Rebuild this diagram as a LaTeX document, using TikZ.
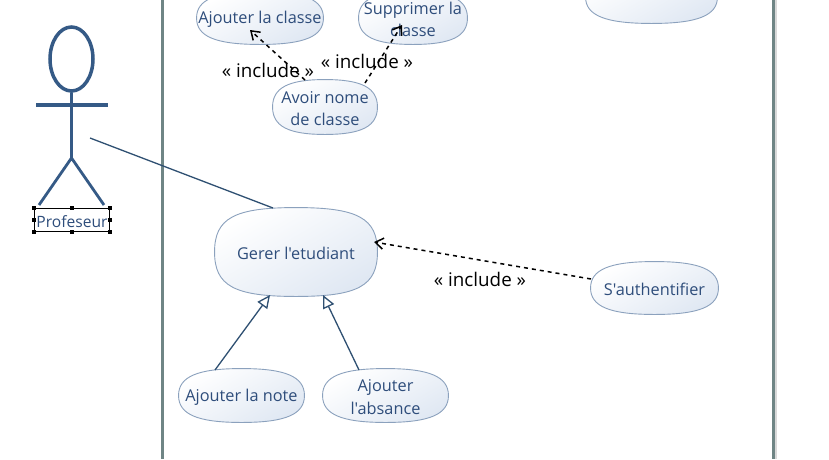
\documentclass[tikz,border=0pt]{standalone}
\usepackage{fontspec}
\setmainfont{Open Sans}
\newfontfamily\ucfont{Open Sans}
\usetikzlibrary{arrows.meta,shapes.geometric,calc}
\definecolor{frameC}{HTML}{6F8585}
\definecolor{actorC}{HTML}{355A86}
\definecolor{assocC}{HTML}{2F5072}
\definecolor{ucText}{HTML}{2E4D7B}
\definecolor{ucEdge}{HTML}{8BA1BD}
\definecolor{ucFill}{HTML}{E0E8F3}
\def\uck{0.70}
\makeatletter
\pgfdeclareshape{usecase}{
  \inheritsavedanchors[from=rectangle]
  \inheritanchorborder[from=rectangle]
  \inheritanchor[from=rectangle]{center}
  \inheritanchor[from=rectangle]{north}
  \inheritanchor[from=rectangle]{south}
  \inheritanchor[from=rectangle]{east}
  \inheritanchor[from=rectangle]{west}
  \anchor{text}{\pgfpoint{0pt}{-1.5pt}}
  \backgroundpath{
    \southwest \pgf@xa=\pgf@x \pgf@ya=\pgf@y
    \northeast \pgf@xb=\pgf@x \pgf@yb=\pgf@y
    \pgfmathsetlength\pgf@xc{0.5*(\pgf@xa+\pgf@xb)}
    \pgfmathsetlength\pgf@yc{0.5*(\pgf@ya+\pgf@yb)}
    \pgfmathsetlength\pgf@x{\uck*(\pgf@xb-\pgf@xc)}
    \pgfmathsetlength\pgf@y{\uck*(\pgf@yb-\pgf@yc)}
    \edef\ucx{\the\pgf@x}\edef\ucy{\the\pgf@y}
    \edef\xa{\the\pgf@xa}\edef\xb{\the\pgf@xb}\edef\xc{\the\pgf@xc}
    \edef\ya{\the\pgf@ya}\edef\yb{\the\pgf@yb}\edef\yc{\the\pgf@yc}
    \pgfpathmoveto{\pgfqpoint{\xa}{\yc}}
    \pgfpathcurveto{\pgfpoint{\xa}{\yc+\ucy}}{\pgfpoint{\xc-\ucx}{\yb}}{\pgfqpoint{\xc}{\yb}}
    \pgfpathcurveto{\pgfpoint{\xc+\ucx}{\yb}}{\pgfpoint{\xb}{\yc+\ucy}}{\pgfqpoint{\xb}{\yc}}
    \pgfpathcurveto{\pgfpoint{\xb}{\yc-\ucy}}{\pgfpoint{\xc+\ucx}{\ya}}{\pgfqpoint{\xc}{\ya}}
    \pgfpathcurveto{\pgfpoint{\xc-\ucx}{\ya}}{\pgfpoint{\xa}{\yc-\ucy}}{\pgfqpoint{\xa}{\yc}}
    \pgfpathclose
  }
}
\makeatother
\tikzset{
  ucase/.style={shape=usecase,draw=ucEdge,line width=0.9pt,shade,shading=axis,
    left color=white,right color=ucFill,shading angle=30,inner sep=0pt,
    text=ucText,align=center,font=\ucfont\fontsize{16.3}{22.5}\selectfont,
    minimum width=#1},
  ucase/.default=126pt,
  squarer/.style={/utils/exec={\def\uck{0.76}}},
  frameline/.style={draw=frameC,line width=3pt},
  actorline/.style={draw=actorC,line cap=round},
  assoc/.style={draw=assocC,line width=1.3pt},
  genline/.style={draw=assocC,line width=1.3pt,-{Triangle[open,length=13pt,width=12pt,fill=white]}},
  incl/.style={draw=black,line width=1.5pt,dash pattern=on 4pt off 4pt,-{Straight Barb[length=8pt,width=11pt]}},
  incllabel/.style={font=\fontsize{18.8}{20}\selectfont,text=black,inner sep=0pt},
  handle/.style={fill=black,draw=none,minimum size=3.5pt,inner sep=0pt},
}
\begin{document}
\begin{tikzpicture}[x=1pt,y=-1pt]
\useasboundingbox (0,0) rectangle (829,459);
\clip (0,0) rectangle (829,459);
\fill[white] (0,0) rectangle (829,459);
% system frame
\coordinate (ftl) at (162.5,0); \coordinate (fbl) at (162.5,459);
\coordinate (ftr) at (773.5,0); \coordinate (fbr) at (773.5,459);
\fill[gray!30] (775,0) rectangle (777,459);
\draw[frameline] (ftl) -- (fbl);
\draw[frameline] (ftr) -- (fbr);
% use cases
\node[ucase=126pt,minimum height=52pt] (classe) at (260,18) {Ajouter la classe};
\node[ucase=108pt,minimum height=52pt] (suppr) at (413,18) {Supprimer la\\classe};
\node[ucase=131pt,minimum height=52pt] (top) at (651.5,-3) {};
\node[ucase=104pt,minimum height=54pt] (avoir) at (325,107) {Avoir nome\\de classe};
\node[ucase=162pt,minimum height=88pt,squarer] (gerer) at (296,252) {Gerer l'etudiant};
\node[ucase=125pt,minimum height=53pt] (note) at (241.5,395.5) {Ajouter la note};
\node[ucase=125pt,minimum height=53pt] (absence) at (385.5,395.5) {Ajouter\\l'absance};
\node[ucase=127pt,minimum height=52pt] (auth) at (654.5,288) {S'authentifier};
% actor
\node[ellipse,draw=actorC,line width=3.5pt,minimum width=43pt,minimum height=64pt,inner sep=0pt] (head) at (71.5,59) {};
\coordinate (neck) at (71.5,91);
\coordinate (hip) at (71.5,158);
\coordinate (handL) at (36,105);
\coordinate (handR) at (108,105);
\coordinate (footL) at (39,205);
\coordinate (footR) at (104,205);
\coordinate (actorEnd) at (90,138);
\draw[actorline,line width=2.6pt] (head.south) -- (hip);
\draw[actorline,line width=3.2pt,line cap=butt] (handL) -- (handR);
\draw[actorline,line width=2.8pt,line cap=butt] (footL) -- (hip) -- (footR);
\node[draw=black,line width=0.8pt,minimum width=75pt,minimum height=23pt,inner sep=0pt,
  text=ucText,font=\ucfont\fontsize{15.6}{17}\selectfont] (prof) at (72,220) {\raisebox{-1.5pt}[\height][\depth]{Profeseur}};
\foreach \a in {north west,north,north east,west,east,south west,south,south east}
  \node[handle] (h\a) at (prof.\a) {};
% connectors
\draw[assoc] (actorEnd) -- ([shift={(-23,-44)}]gerer.center);
\draw[genline] ([shift={(-26.5,-25.5)}]note.center) -- ([shift={(-26,43)}]gerer.center);
\draw[genline] ([shift={(-26.5,-25.5)}]absence.center) -- ([shift={(27,43)}]gerer.center);
\draw[incl] ([shift={(-20,-27)}]avoir.center) -- ([shift={(-10,12)}]classe.center);
\draw[incl] ([shift={(40,-24)}]avoir.center) -- ([shift={(-11,7)}]suppr.center);
\draw[incl] ([shift={(-63.5,-9)}]auth.center) -- ([shift={(78,-10)}]gerer.center);
% labels
\node[incllabel] (l1) at (268,70) {« include »};
\node[incllabel] (l2) at (367,61) {« include »};
\node[incllabel] (l3) at (480,279) {« include »};
\end{tikzpicture}
\end{document}
